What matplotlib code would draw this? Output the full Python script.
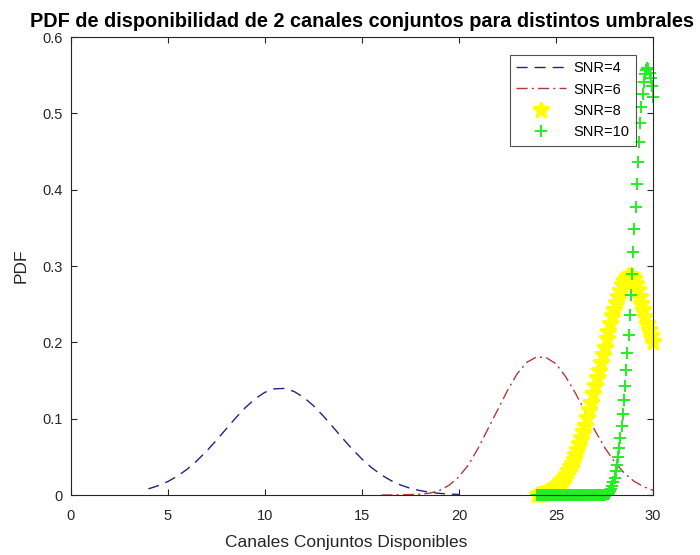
import matplotlib
matplotlib.use("Agg")
import matplotlib.pyplot as plt
import numpy as np

plt.rcParams['font.family'] = ['Liberation Sans', 'DejaVu Sans']

# SNR=4 (dashed line)
x4 = [4.0, 4.5, 5.0, 5.5, 6.0, 6.5, 7.0, 7.5, 8.0, 8.5, 9.0, 9.5, 10.0, 10.5, 11.0, 11.5,
      12.0, 12.5, 13.0, 13.5, 14.0, 14.5, 15.0, 15.5, 16.0, 16.5, 17.0, 17.5, 18.0, 18.5,
      19.0, 19.5, 20.0]
y4 = [0.0081, 0.0122, 0.0177, 0.0248, 0.0339, 0.0449, 0.0576, 0.0716, 0.0864, 0.1011,
      0.1147, 0.1262, 0.1346, 0.1392, 0.1397, 0.1358, 0.1281, 0.1172, 0.1039, 0.0894,
      0.0745, 0.0603, 0.0473, 0.0359, 0.0265, 0.0189, 0.0131, 0.0088, 0.0058, 0.0036,
      0.0022, 0.0013, 0.0008]

# SNR=6 (dash-dot line)
x6 = [16.0, 16.5, 17.0, 17.5, 18.0, 18.5, 19.0, 19.5, 20.0, 20.5, 21.0, 21.5, 22.0, 22.5,
      23.0, 23.5, 24.0, 24.5, 25.0, 25.5, 26.0, 26.5, 27.0, 27.5, 28.0, 28.5, 29.0, 29.5, 30.0]
y6 = [0.0000, 0.0001, 0.0003, 0.0006, 0.0012, 0.0025, 0.0060, 0.0130, 0.0240, 0.0400,
      0.0620, 0.0870, 0.1120, 0.1370, 0.1590, 0.1740, 0.1810, 0.1800, 0.1720, 0.1550,
      0.1335, 0.1092, 0.0848, 0.0625, 0.0438, 0.0291, 0.0184, 0.0110, 0.0063]

# SNR=8 (asterisks), x from 24 to 30 in steps of 0.1
x8 = np.round(np.arange(240, 301) / 10.0, 2)
y8 = [0.000, 0.001, 0.001, 0.002, 0.003, 0.004, 0.005, 0.007, 0.008, 0.010,
      0.012, 0.014, 0.017, 0.020, 0.023, 0.026, 0.031, 0.037, 0.041, 0.046,
      0.052, 0.059, 0.067, 0.075, 0.083, 0.091, 0.101, 0.111, 0.121, 0.132,
      0.143, 0.153, 0.163, 0.173, 0.183, 0.193, 0.204, 0.214, 0.224, 0.234,
      0.243, 0.252, 0.260, 0.268, 0.275, 0.280, 0.284, 0.287, 0.288, 0.287,
      0.283, 0.277, 0.269, 0.260, 0.251, 0.242, 0.233, 0.224, 0.216, 0.208,
      0.200]

# SNR=10 (plus markers), x from 24 to 30 in steps of 0.06
x10 = np.round(np.arange(0, 101) * 0.06 + 24, 2)
y10 = [0.0] * 59 + [
    0.0005, 0.001, 0.002, 0.003, 0.005, 0.008, 0.012, 0.017, 0.023, 0.031,
    0.040, 0.050, 0.062, 0.075, 0.090, 0.106, 0.124, 0.143, 0.164, 0.186,
    0.210, 0.236, 0.262, 0.290, 0.318, 0.348, 0.378, 0.408, 0.436, 0.463,
    0.487, 0.508, 0.526, 0.541, 0.552, 0.557, 0.560, 0.558, 0.553, 0.546,
    0.536, 0.522]

fig = plt.figure(figsize=(7, 5.55), dpi=100)
ax = fig.add_axes([0.101, 0.108, 0.832, 0.825])

ax.plot(x4, y4, color='#23237f', linestyle=(0, (8, 5)), linewidth=1, label='SNR=4')
ax.plot(x6, y6, color='#b03a3a', linestyle=(0, (8, 3, 1.5, 3)), linewidth=1, label='SNR=6')
ax.plot(x8, y8, linestyle='none', marker='*', color='#ffff00', markersize=12,
        markeredgewidth=2, label='SNR=8', clip_on=False)
ax.plot(x10, y10, linestyle='none', marker='+', color='#22ee22', markersize=9,
        markeredgewidth=1.4, label='SNR=10', clip_on=False)

ax.set_xlim(0, 30)
ax.set_ylim(0, 0.6)
ax.set_xticks([0, 5, 10, 15, 20, 25, 30])
ax.set_xticklabels(['0', '5', '10', '15', '20', '25', '30'])
ax.set_yticks([0, 0.1, 0.2, 0.3, 0.4, 0.5, 0.6])
ax.set_yticklabels(['0', '0.1', '0.2', '0.3', '0.4', '0.5', '0.6'])
ax.tick_params(direction='in', top=True, right=True, labelsize=10.5, length=4,
               colors='#262626')
ax.tick_params(axis='x', pad=10)
ax.tick_params(axis='y', pad=6)
for s in ax.spines.values():
    s.set_color('#262626')
    s.set_linewidth(0.8)

ax.set_xlabel('Canales Conjuntos Disponibles', fontsize=12.5, color='#262626')
ax.xaxis.set_label_coords(0.473, -0.088)
ax.set_ylabel('PDF', fontsize=12.5, color='#262626')
ax.yaxis.set_label_coords(-0.072, 0.5)
ax.set_title('PDF de disponibilidad de 2 canales conjuntos para distintos umbrales',
             fontsize=14.3, fontweight='bold', pad=7)

leg = ax.legend(loc='upper right', fontsize=10.5, frameon=True, fancybox=False,
                edgecolor='#262626', handlelength=3.4, borderaxespad=1.2,
                borderpad=0.45, labelspacing=0.5, handletextpad=0.5)
leg.get_frame().set_linewidth(0.8)

fig.savefig('out.png', dpi=100)
